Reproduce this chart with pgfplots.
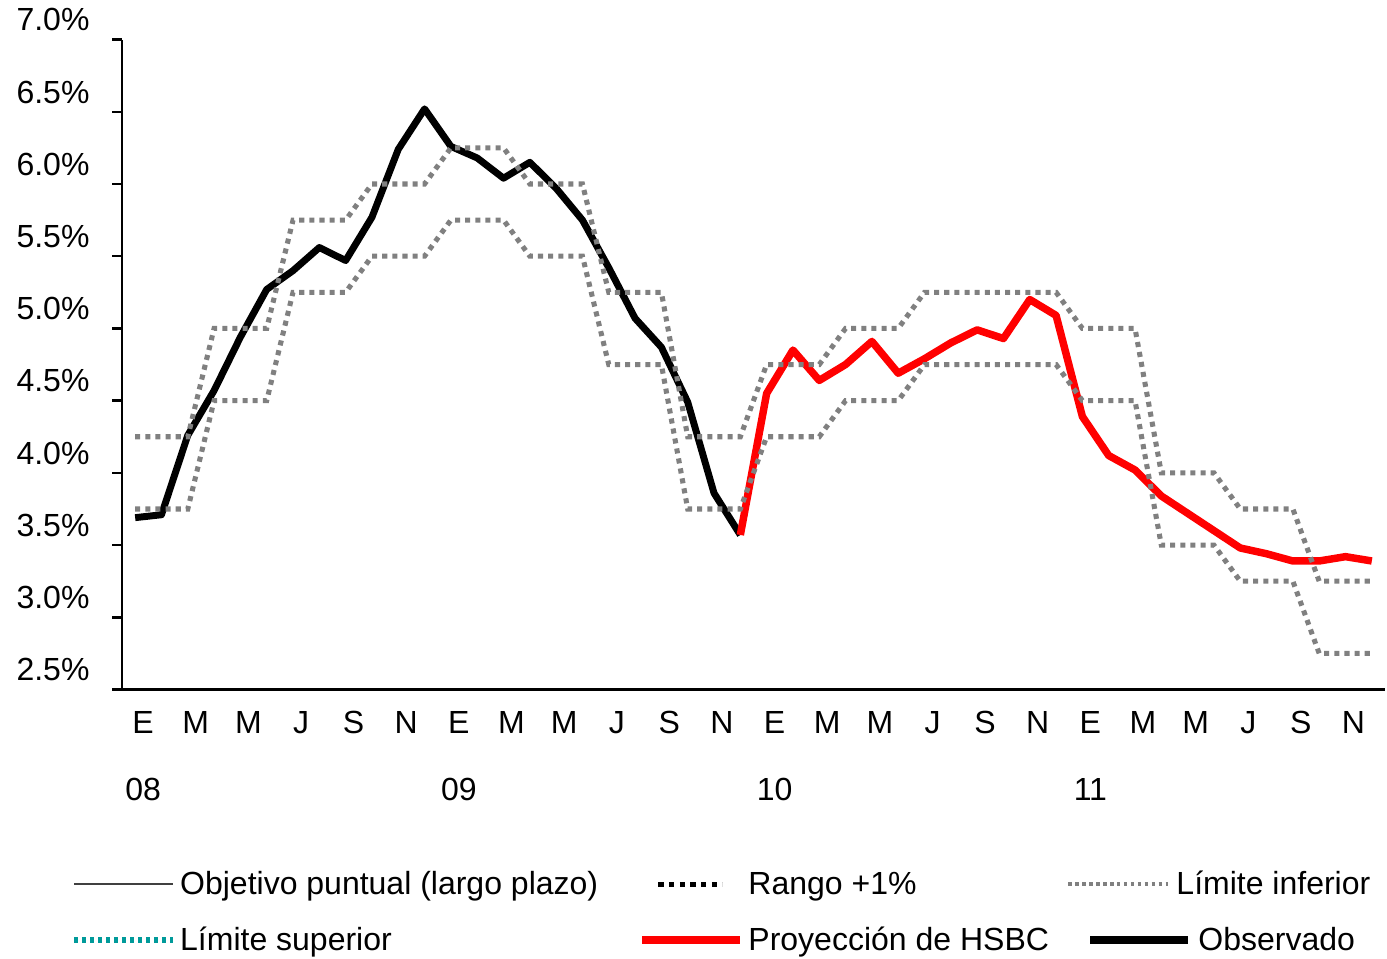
\documentclass[border=0pt]{standalone}
\usepackage{fontspec}
\setmainfont{Liberation Sans}
\usepackage{pgfplots}
\usepackage{pgfplotstable}
\pgfplotsset{compat=1.18}
\definecolor{bandgray}{HTML}{808080}
\definecolor{proyred}{HTML}{FF0000}
\definecolor{limteal}{HTML}{009A9A}
\definecolor{objgray}{HTML}{404040}

% observed inflation, months 0 = Jan 08
\pgfplotstableread{
i v
0 3.69
1 3.71
2 4.26
3 4.57
4 4.94
5 5.27
6 5.40
7 5.56
8 5.47
9 5.77
10 6.24
11 6.52
12 6.26
13 6.18
14 6.04
15 6.15
16 5.97
17 5.75
18 5.42
19 5.07
20 4.87
21 4.49
22 3.86
23 3.57
}\observado

% HSBC projection
\pgfplotstableread{
i v
23 3.57
24 4.55
25 4.85
26 4.64
27 4.75
28 4.91
29 4.69
30 4.79
31 4.90
32 4.99
33 4.93
34 5.20
35 5.09
36 4.39
37 4.12
38 4.02
39 3.84
40 3.72
41 3.60
42 3.48
43 3.44
44 3.39
45 3.39
46 3.42
47 3.39
}\proyeccion

% target band
\pgfplotstableread{
i sup inf
0 4.25 3.75
1 4.25 3.75
2 4.25 3.75
3 5.00 4.50
4 5.00 4.50
5 5.00 4.50
6 5.75 5.25
7 5.75 5.25
8 5.75 5.25
9 6.00 5.50
10 6.00 5.50
11 6.00 5.50
12 6.25 5.75
13 6.25 5.75
14 6.25 5.75
15 6.00 5.50
16 6.00 5.50
17 6.00 5.50
18 5.25 4.75
19 5.25 4.75
20 5.25 4.75
21 4.25 3.75
22 4.25 3.75
23 4.25 3.75
24 4.75 4.25
25 4.75 4.25
26 4.75 4.25
27 5.00 4.50
28 5.00 4.50
29 5.00 4.50
30 5.25 4.75
31 5.25 4.75
32 5.25 4.75
33 5.25 4.75
34 5.25 4.75
35 5.25 4.75
36 5.00 4.50
37 5.00 4.50
38 5.00 4.50
39 4.00 3.50
40 4.00 3.50
41 4.00 3.50
42 3.75 3.25
43 3.75 3.25
44 3.75 3.25
45 3.25 2.75
46 3.25 2.75
47 3.25 2.75
}\banda

\begin{document}
\begin{tikzpicture}[font=\fontsize{12}{14.4}\selectfont]
\begin{axis}[
    scale only axis,
    width=473.6pt, height=243.75pt,
    xmin=-0.5, xmax=47.5,
    ymin=2.5, ymax=7.0,
    axis lines*=left,
    axis line style={line width=1.1pt, black},
    clip=false,
    tick align=outside,
    ytick={2.5,3,...,7},
    yticklabels={2.5\%,3.0\%,3.5\%,4.0\%,4.5\%,5.0\%,5.5\%,6.0\%,6.5\%,7.0\%},
    ytick style={line width=0.9pt, black},
    major tick length=3.75pt,
    yticklabel style={anchor=east, inner sep=0pt, xshift=-8.25pt, yshift=7.4pt},
    xtick={0,2,...,46},
    xticklabels={{E\\[10.7pt]08},M,M,J,S,N,{E\\[10.7pt]09},M,M,J,S,N,{E\\[10.7pt]10},M,M,J,S,N,{E\\[10.7pt]11},M,M,J,S,N},
    xtick style={draw=none},
    minor xtick={-0.5,0.5,...,47.5},
    minor tick length=5pt,
    minor x tick style={line width=1.1pt, black},
    xticklabel style={anchor=north, align=center, inner sep=0pt, xshift=3pt, yshift=-4.2pt},
    legend columns=3,
    legend cell align=left,
    legend style={at={(rel axis cs:-0.0404,-0.3423)}, anchor=west,
        draw=none, fill=none, inner sep=0pt, column sep=0pt, row sep=9.5pt,
        nodes={inner sep=0pt, text height=9.5pt, text depth=2pt}},
]
% bounding box of the whole figure
\path[draw=none] (rel axis cs:-0.0966,1.0608) (rel axis cs:1.0016,-0.4131);

\addplot[black, line width=2.6pt, line join=round, forget plot] table[x=i, y=v] {\observado};
\addplot[proyred, line width=2.8pt, line join=round, forget plot] table[x=i, y=v] {\proyeccion};
\addplot[bandgray, line width=1.9pt, dash pattern=on 1.9pt off 1.9pt, forget plot] table[x=i, y=sup] {\banda};
\addplot[bandgray, line width=1.9pt, dash pattern=on 1.9pt off 1.9pt, forget plot] table[x=i, y=inf] {\banda};

\addlegendimage{legend image code/.code={\path[draw=none,fill=none] (0,0) (39.75pt,0); \draw[objgray, line width=1pt, solid] (0,0) -- (37.1pt,0);}}
\addlegendentry{\makebox[171.75pt][l]{Objetivo puntual (largo plazo)}}
\addlegendimage{legend image code/.code={\path[draw=none,fill=none] (0,0) (40.5pt,0); \draw[black, line width=1.9pt, dash pattern=on 2pt off 2pt] (6.75pt,0) -- (30.75pt,0);}}
\addlegendentry{\makebox[119.25pt][l]{Rango +1\%}}
\addlegendimage{legend image code/.code={\path[draw=none,fill=none] (0,0) (41.25pt,0); \draw[bandgray, line width=1.2pt, dash pattern=on 1.3pt off 1.3pt] (0.75pt,0) -- (38.25pt,0);}}
\addlegendentry{Límite inferior}
\addlegendimage{legend image code/.code={\path[draw=none,fill=none] (0,0) (39.75pt,0); \draw[limteal, line width=2pt, dash pattern=on 1.6pt off 1.4pt] (0,0) -- (37.1pt,0);}}
\addlegendentry{\makebox[171.75pt][l]{Límite superior}}
\addlegendimage{legend image code/.code={\path[draw=none,fill=none] (0,0) (40.5pt,0); \draw[proyred, line width=3.2pt, solid] (0.75pt,0) -- (37.5pt,0);}}
\addlegendentry{\makebox[119.25pt][l]{Proyección de HSBC}}
\addlegendimage{legend image code/.code={\path[draw=none,fill=none] (0,0) (41.25pt,0); \draw[overlay, black, line width=2.8pt, solid] (9pt,0) -- (45.4pt,0);}}
\addlegendentry{\hspace*{8.25pt}Observado}
\end{axis}
\end{tikzpicture}
\end{document}
